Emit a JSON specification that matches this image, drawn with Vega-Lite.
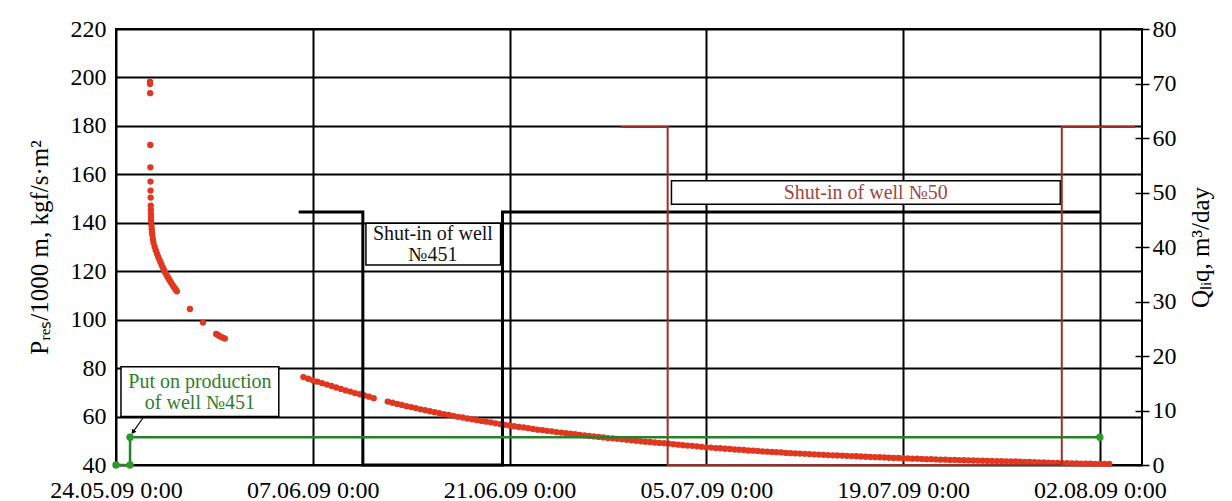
{
  "$schema": "https://vega.github.io/schema/vega-lite/v6.json",
  "width": 1026,
  "height": 436,
  "autosize": {"type": "none"},
  "padding": {"left": 116, "top": 29, "right": 90, "bottom": 36},
  "background": "white",
  "config": {
    "view": {"stroke": "black", "strokeWidth": 2},
    "font": "Liberation Serif",
    "axis": {"labelFont": "Liberation Serif", "titleFont": "Liberation Serif", "labelColor": "black", "titleColor": "black", "titleFontWeight": "normal"}
  },
  "datasets": {
    "pres": [
      {"t": "2009-05-26T10:00", "P": 198.3}, {"t": "2009-05-26T10:10", "P": 197.3}, {"t": "2009-05-26T10:20", "P": 193.5},
      {"t": "2009-05-26T10:30", "P": 172.1}, {"t": "2009-05-26T10:40", "P": 162.9}, {"t": "2009-05-26T10:50", "P": 157.0},
      {"t": "2009-05-26T11:00", "P": 153.3}, {"t": "2009-05-26T11:10", "P": 150.4}, {"t": "2009-05-26T11:20", "P": 147.1},
      {"t": "2009-05-26T11:30", "P": 145.3}, {"t": "2009-05-26T11:40", "P": 143.6}, {"t": "2009-05-26T11:50", "P": 142.2},
      {"t": "2009-05-26T12:00", "P": 140.8}, {"t": "2009-05-26T12:30", "P": 139.0}, {"t": "2009-05-26T13:00", "P": 137.5},
      {"t": "2009-05-26T13:30", "P": 136.2}, {"t": "2009-05-26T14:00", "P": 135.0}, {"t": "2009-05-26T15:00", "P": 133.2},
      {"t": "2009-05-26T16:00", "P": 131.8}, {"t": "2009-05-26T18:00", "P": 130.0}, {"t": "2009-05-26T20:00", "P": 128.6},
      {"t": "2009-05-26T22:00", "P": 127.2}, {"t": "2009-05-27T00:00", "P": 126.0}, {"t": "2009-05-27T02:00", "P": 124.8},
      {"t": "2009-05-27T04:00", "P": 123.7}, {"t": "2009-05-27T06:00", "P": 122.6}, {"t": "2009-05-27T08:00", "P": 121.5},
      {"t": "2009-05-27T10:00", "P": 120.5}, {"t": "2009-05-27T12:00", "P": 119.5}, {"t": "2009-05-27T14:00", "P": 118.6},
      {"t": "2009-05-27T16:00", "P": 117.7}, {"t": "2009-05-27T18:00", "P": 116.9}, {"t": "2009-05-27T20:00", "P": 116.1},
      {"t": "2009-05-27T22:00", "P": 115.3}, {"t": "2009-05-28T00:00", "P": 114.5}, {"t": "2009-05-28T02:00", "P": 113.8},
      {"t": "2009-05-28T04:00", "P": 113.1}, {"t": "2009-05-28T06:00", "P": 112.4}, {"t": "2009-05-28T08:00", "P": 111.7},
      {"t": "2009-05-29T06:15", "P": 104.4}, {"t": "2009-05-30T04:30", "P": 98.8},
      {"t": "2009-05-31T03:00", "P": 94.1}, {"t": "2009-05-31T06:00", "P": 93.7}, {"t": "2009-05-31T09:00", "P": 93.2},
      {"t": "2009-05-31T12:00", "P": 92.8}, {"t": "2009-05-31T15:00", "P": 92.5}, {"t": "2009-05-31T18:00", "P": 92.2},
      {"t": "2009-06-06T08:00", "P": 76.3}, {"t": "2009-06-06T16:00", "P": 75.6}, {"t": "2009-06-07T00:00", "P": 75.0},
      {"t": "2009-06-07T08:00", "P": 74.4}, {"t": "2009-06-07T16:00", "P": 73.8}, {"t": "2009-06-08T00:00", "P": 73.2},
      {"t": "2009-06-08T08:00", "P": 72.6}, {"t": "2009-06-08T16:00", "P": 72.0}, {"t": "2009-06-09T00:00", "P": 71.4},
      {"t": "2009-06-09T08:00", "P": 70.8}, {"t": "2009-06-09T16:00", "P": 70.3}, {"t": "2009-06-10T00:00", "P": 69.7},
      {"t": "2009-06-10T08:00", "P": 69.2}, {"t": "2009-06-10T16:00", "P": 68.7}, {"t": "2009-06-11T00:00", "P": 68.2},
      {"t": "2009-06-11T08:00", "P": 67.6},
      {"t": "2009-06-12T08:00", "P": 66.2}, {"t": "2009-06-12T16:00", "P": 65.7}, {"t": "2009-06-13T00:00", "P": 65.2},
      {"t": "2009-06-13T08:00", "P": 64.8}, {"t": "2009-06-13T16:00", "P": 64.3}, {"t": "2009-06-14T00:00", "P": 63.9},
      {"t": "2009-06-14T08:00", "P": 63.5}, {"t": "2009-06-14T16:00", "P": 63.0}, {"t": "2009-06-15T00:00", "P": 62.6},
      {"t": "2009-06-15T08:00", "P": 62.2}, {"t": "2009-06-15T16:00", "P": 61.8}, {"t": "2009-06-16T00:00", "P": 61.4},
      {"t": "2009-06-16T08:00", "P": 61.0}, {"t": "2009-06-16T16:00", "P": 60.7}, {"t": "2009-06-17T00:00", "P": 60.3},
      {"t": "2009-06-17T08:00", "P": 59.9}, {"t": "2009-06-17T16:00", "P": 59.6}, {"t": "2009-06-18T00:00", "P": 59.2},
      {"t": "2009-06-18T08:00", "P": 58.9}, {"t": "2009-06-18T16:00", "P": 58.5}, {"t": "2009-06-19T00:00", "P": 58.2},
      {"t": "2009-06-19T08:00", "P": 57.9}, {"t": "2009-06-19T16:00", "P": 57.6}, {"t": "2009-06-20T00:00", "P": 57.2},
      {"t": "2009-06-20T08:00", "P": 56.9}, {"t": "2009-06-20T16:00", "P": 56.6}, {"t": "2009-06-21T00:00", "P": 56.3},
      {"t": "2009-06-21T08:00", "P": 56.0}, {"t": "2009-06-21T16:00", "P": 55.7}, {"t": "2009-06-22T00:00", "P": 55.5},
      {"t": "2009-06-22T08:00", "P": 55.2}, {"t": "2009-06-22T16:00", "P": 54.9}, {"t": "2009-06-23T00:00", "P": 54.6},
      {"t": "2009-06-23T08:00", "P": 54.4}, {"t": "2009-06-23T16:00", "P": 54.1}, {"t": "2009-06-24T00:00", "P": 53.9},
      {"t": "2009-06-24T08:00", "P": 53.6}, {"t": "2009-06-24T16:00", "P": 53.4}, {"t": "2009-06-25T00:00", "P": 53.1},
      {"t": "2009-06-25T08:00", "P": 52.9}, {"t": "2009-06-25T16:00", "P": 52.7}, {"t": "2009-06-26T00:00", "P": 52.4},
      {"t": "2009-06-26T08:00", "P": 52.2}, {"t": "2009-06-26T16:00", "P": 52.0}, {"t": "2009-06-27T00:00", "P": 51.8},
      {"t": "2009-06-27T08:00", "P": 51.6}, {"t": "2009-06-27T16:00", "P": 51.4}, {"t": "2009-06-28T00:00", "P": 51.1},
      {"t": "2009-06-28T08:00", "P": 51.0}, {"t": "2009-06-28T16:00", "P": 50.8}, {"t": "2009-06-29T00:00", "P": 50.6},
      {"t": "2009-06-29T08:00", "P": 50.4}, {"t": "2009-06-29T16:00", "P": 50.2}, {"t": "2009-06-30T00:00", "P": 50.0},
      {"t": "2009-06-30T08:00", "P": 49.8}, {"t": "2009-06-30T16:00", "P": 49.6}, {"t": "2009-07-01T00:00", "P": 49.5},
      {"t": "2009-07-01T08:00", "P": 49.3}, {"t": "2009-07-01T16:00", "P": 49.1}, {"t": "2009-07-02T00:00", "P": 49.0},
      {"t": "2009-07-02T08:00", "P": 48.8}, {"t": "2009-07-02T16:00", "P": 48.6}, {"t": "2009-07-03T00:00", "P": 48.4},
      {"t": "2009-07-03T08:00", "P": 48.2}, {"t": "2009-07-03T16:00", "P": 48.0}, {"t": "2009-07-04T00:00", "P": 47.9},
      {"t": "2009-07-04T08:00", "P": 47.7}, {"t": "2009-07-04T16:00", "P": 47.5}, {"t": "2009-07-05T00:00", "P": 47.3},
      {"t": "2009-07-05T08:00", "P": 47.2}, {"t": "2009-07-05T16:00", "P": 47.0}, {"t": "2009-07-06T00:00", "P": 46.9},
      {"t": "2009-07-06T08:00", "P": 46.7}, {"t": "2009-07-06T16:00", "P": 46.6}, {"t": "2009-07-07T00:00", "P": 46.4},
      {"t": "2009-07-07T08:00", "P": 46.3}, {"t": "2009-07-07T16:00", "P": 46.2}, {"t": "2009-07-08T00:00", "P": 46.0},
      {"t": "2009-07-08T08:00", "P": 45.9}, {"t": "2009-07-08T16:00", "P": 45.8}, {"t": "2009-07-09T00:00", "P": 45.6},
      {"t": "2009-07-09T08:00", "P": 45.5}, {"t": "2009-07-09T16:00", "P": 45.4}, {"t": "2009-07-10T00:00", "P": 45.3},
      {"t": "2009-07-10T08:00", "P": 45.2}, {"t": "2009-07-10T16:00", "P": 45.0}, {"t": "2009-07-11T00:00", "P": 44.9},
      {"t": "2009-07-11T08:00", "P": 44.8}, {"t": "2009-07-11T16:00", "P": 44.7}, {"t": "2009-07-12T00:00", "P": 44.6},
      {"t": "2009-07-12T08:00", "P": 44.5}, {"t": "2009-07-12T16:00", "P": 44.4}, {"t": "2009-07-13T00:00", "P": 44.3},
      {"t": "2009-07-13T08:00", "P": 44.2}, {"t": "2009-07-13T16:00", "P": 44.1}, {"t": "2009-07-14T00:00", "P": 44.0},
      {"t": "2009-07-14T08:00", "P": 43.95}, {"t": "2009-07-14T16:00", "P": 43.9}, {"t": "2009-07-15T00:00", "P": 43.8},
      {"t": "2009-07-15T08:00", "P": 43.7}, {"t": "2009-07-15T16:00", "P": 43.6}, {"t": "2009-07-16T00:00", "P": 43.5},
      {"t": "2009-07-16T08:00", "P": 43.4}, {"t": "2009-07-16T16:00", "P": 43.3}, {"t": "2009-07-17T00:00", "P": 43.25},
      {"t": "2009-07-17T08:00", "P": 43.2}, {"t": "2009-07-17T16:00", "P": 43.1}, {"t": "2009-07-18T00:00", "P": 43.0},
      {"t": "2009-07-18T08:00", "P": 42.9}, {"t": "2009-07-18T16:00", "P": 42.9}, {"t": "2009-07-19T00:00", "P": 42.8},
      {"t": "2009-07-19T08:00", "P": 42.7}, {"t": "2009-07-19T16:00", "P": 42.6}, {"t": "2009-07-20T00:00", "P": 42.6},
      {"t": "2009-07-20T08:00", "P": 42.5}, {"t": "2009-07-20T16:00", "P": 42.4}, {"t": "2009-07-21T00:00", "P": 42.4},
      {"t": "2009-07-21T08:00", "P": 42.3}, {"t": "2009-07-21T16:00", "P": 42.2}, {"t": "2009-07-22T00:00", "P": 42.2},
      {"t": "2009-07-22T08:00", "P": 42.1}, {"t": "2009-07-22T16:00", "P": 42.1}, {"t": "2009-07-23T00:00", "P": 42.0},
      {"t": "2009-07-23T08:00", "P": 41.95}, {"t": "2009-07-23T16:00", "P": 41.9}, {"t": "2009-07-24T00:00", "P": 41.85},
      {"t": "2009-07-24T08:00", "P": 41.8}, {"t": "2009-07-24T16:00", "P": 41.75}, {"t": "2009-07-25T00:00", "P": 41.7},
      {"t": "2009-07-25T08:00", "P": 41.65}, {"t": "2009-07-25T16:00", "P": 41.6}, {"t": "2009-07-26T00:00", "P": 41.55},
      {"t": "2009-07-26T08:00", "P": 41.5}, {"t": "2009-07-26T16:00", "P": 41.5}, {"t": "2009-07-27T00:00", "P": 41.45},
      {"t": "2009-07-27T08:00", "P": 41.4}, {"t": "2009-07-27T16:00", "P": 41.3}, {"t": "2009-07-28T00:00", "P": 41.25},
      {"t": "2009-07-28T08:00", "P": 41.2}, {"t": "2009-07-28T16:00", "P": 41.1}, {"t": "2009-07-29T00:00", "P": 41.05},
      {"t": "2009-07-29T08:00", "P": 41.0}, {"t": "2009-07-29T16:00", "P": 40.9}, {"t": "2009-07-30T00:00", "P": 40.85},
      {"t": "2009-07-30T08:00", "P": 40.8}, {"t": "2009-07-30T16:00", "P": 40.8}, {"t": "2009-07-31T00:00", "P": 40.7},
      {"t": "2009-07-31T08:00", "P": 40.7}, {"t": "2009-07-31T16:00", "P": 40.6}, {"t": "2009-08-01T00:00", "P": 40.6},
      {"t": "2009-08-01T08:00", "P": 40.6}, {"t": "2009-08-01T16:00", "P": 40.5}, {"t": "2009-08-02T00:00", "P": 40.5},
      {"t": "2009-08-02T08:00", "P": 40.5}, {"t": "2009-08-02T16:00", "P": 40.45}
    ],
    "q": [
      {"series": "451", "t": "2009-06-06T00:00", "Q": 46.4},
      {"series": "451", "t": "2009-06-10T13:30", "Q": 46.4},
      {"series": "451", "t": "2009-06-10T13:30", "Q": 0},
      {"series": "451", "t": "2009-06-20T12:00", "Q": 0},
      {"series": "451", "t": "2009-06-20T12:00", "Q": 46.4},
      {"series": "451", "t": "2009-08-02T00:00", "Q": 46.4},
      {"series": "50", "t": "2009-06-28T22:00", "Q": 62},
      {"series": "50", "t": "2009-07-02T06:00", "Q": 62},
      {"series": "50", "t": "2009-07-02T06:00", "Q": 0},
      {"series": "50", "t": "2009-07-30T07:00", "Q": 0},
      {"series": "50", "t": "2009-07-30T07:00", "Q": 62},
      {"series": "50", "t": "2009-08-04T12:00", "Q": 62},
      {"series": "start", "t": "2009-05-24T00:00", "Q": 0},
      {"series": "start", "t": "2009-05-25T00:00", "Q": 0},
      {"series": "start", "t": "2009-05-25T00:00", "Q": 5.1},
      {"series": "start", "t": "2009-08-02T00:00", "Q": 5.1}
    ],
    "notes": [
      {"note": "451 production", "label": "Put on production\nof well №451", "t1": "2009-05-24T08:30", "t2": "2009-06-04T14:00", "P1": 80.6, "P2": 60.0, "tx": "2009-05-29T23:20", "Py": 74.4},
      {"note": "451 shut-in", "label": "Shut-in of well\n№451", "t1": "2009-06-10T18:45", "t2": "2009-06-20T08:40", "P1": 139.8, "P2": 122.6, "tx": "2009-06-15T13:10", "Py": 135.2},
      {"note": "50 shut-in", "label": "Shut-in of well №50", "t1": "2009-07-02T12:30", "t2": "2009-07-30T04:30", "P1": 157.4, "P2": 147.6, "tx": "2009-07-16T08:10", "Py": 152.4}
    ],
    "arrow": [
      {"t1": "2009-05-25T22:00", "P1": 59.4, "t2": "2009-05-25T05:00", "P2": 53.6}
    ]
  },
  "layer": [
    {
      "data": {"name": "pres"},
      "mark": {"type": "circle", "size": 40, "opacity": 1, "color": "#e2371f"},
      "encoding": {
        "x": {
          "field": "t", "type": "temporal",
          "scale": {"domain": [{"year": 2009, "month": 5, "date": 24}, {"year": 2009, "month": 8, "date": 5}], "nice": false},
          "axis": {
            "values": [
              {"year": 2009, "month": 5, "date": 24}, {"year": 2009, "month": 6, "date": 7}, {"year": 2009, "month": 6, "date": 21},
              {"year": 2009, "month": 7, "date": 5}, {"year": 2009, "month": 7, "date": 19}, {"year": 2009, "month": 8, "date": 2}
            ],
            "format": "%d.%m.%y %-H:%M", "title": null, "ticks": false, "domain": false,
            "grid": true, "gridColor": "black", "gridWidth": 2, "gridOpacity": 1,
            "labelFontSize": 24, "labelPadding": 13, "labelOverlap": false, "labelFlush": false, "labelAngle": 0
          }
        },
        "y": {
          "field": "P", "type": "quantitative",
          "scale": {"domain": [40, 220], "nice": false, "zero": false},
          "axis": {
            "orient": "left",
            "values": [40, 60, 80, 100, 120, 140, 160, 180, 200, 220],
            "title": "Pᵣₑₛ/1000 m, kgf/s·m²", "titleFontSize": 25, "titlePadding": 18,
            "ticks": false, "domain": false, "grid": true, "gridColor": "black", "gridWidth": 2, "gridOpacity": 1,
            "labelFontSize": 24, "labelPadding": 10
          }
        }
      }
    },
    {
      "data": {"name": "notes"},
      "mark": {"type": "rect", "fill": "white", "stroke": "black", "strokeWidth": 1.5},
      "encoding": {
        "x": {"field": "t1", "type": "temporal", "axis": {"title": null}},
        "x2": {"field": "t2"},
        "y": {"field": "P1", "type": "quantitative", "scale": {"domain": [40, 220], "nice": false, "zero": false}, "axis": null},
        "y2": {"field": "P2"}
      }
    },
    {
      "data": {"name": "notes"},
      "mark": {"type": "text", "font": "Liberation Serif", "fontSize": 20, "lineBreak": "\n", "lineHeight": 21, "align": "center", "baseline": "middle"},
      "encoding": {
        "x": {"field": "tx", "type": "temporal", "axis": {"title": null}},
        "y": {"field": "Py", "type": "quantitative", "scale": {"domain": [40, 220], "nice": false, "zero": false}, "axis": null},
        "text": {"field": "label"},
        "color": {"field": "note", "type": "nominal", "scale": {"domain": ["451 production", "451 shut-in", "50 shut-in"], "range": ["#2e7d32", "#111111", "#a0463e"]}, "legend": null}
      }
    },
    {
      "data": {"name": "arrow"},
      "mark": {"type": "rule", "color": "black", "strokeWidth": 1.2},
      "encoding": {
        "x": {"field": "t1", "type": "temporal", "axis": {"title": null}},
        "x2": {"field": "t2"},
        "y": {"field": "P1", "type": "quantitative", "scale": {"domain": [40, 220], "nice": false, "zero": false}, "axis": null},
        "y2": {"field": "P2"}
      }
    },
    {
      "data": {"name": "arrow"},
      "mark": {"type": "point", "shape": "triangle-down", "filled": true, "color": "black", "size": 28, "angle": 35, "opacity": 1},
      "encoding": {
        "x": {"field": "t2", "type": "temporal", "axis": {"title": null}},
        "y": {"field": "P2", "type": "quantitative", "scale": {"domain": [40, 220], "nice": false, "zero": false}, "axis": null}
      }
    },
    {
      "data": {"name": "q"},
      "transform": [{"filter": "datum.series === '451'"}],
      "mark": {"type": "line", "color": "black", "strokeWidth": 3},
      "encoding": {
        "x": {"field": "t", "type": "temporal", "axis": {"title": null}},
        "y": {
          "field": "Q", "type": "quantitative",
          "scale": {"domain": [0, 80], "nice": false},
          "axis": {
            "orient": "right", "values": [0, 10, 20, 30, 40, 50, 60, 70, 80],
            "title": "Qₗᵢq, m³/day", "titleAngle": 270, "titleBaseline": "top", "titleFontSize": 25, "titlePadding": 12,
            "grid": false, "domain": false, "ticks": true, "tickSize": 14, "tickWidth": 1.5, "tickColor": "black",
            "offset": -7, "labelFontSize": 24, "labelPadding": 3
          }
        },
        "order": {"value": null}
      }
    },
    {
      "data": {"name": "q"},
      "transform": [{"filter": "datum.series === '50'"}],
      "mark": {"type": "line", "color": "#9e2f27", "strokeWidth": 2},
      "encoding": {
        "x": {"field": "t", "type": "temporal", "axis": {"title": null}},
        "y": {"field": "Q", "type": "quantitative", "scale": {"domain": [0, 80], "nice": false}, "axis": null},
        "order": {"value": null}
      }
    },
    {
      "data": {"name": "q"},
      "transform": [{"filter": "datum.series === 'start'"}],
      "mark": {"type": "line", "color": "#2a7f2a", "strokeWidth": 2.5},
      "encoding": {
        "x": {"field": "t", "type": "temporal", "axis": {"title": null}},
        "y": {"field": "Q", "type": "quantitative", "scale": {"domain": [0, 80], "nice": false}, "axis": null},
        "order": {"value": null}
      }
    },
    {
      "data": {"name": "q"},
      "transform": [{"filter": "datum.series === 'start'"}],
      "mark": {"type": "circle", "color": "#2a9a2a", "size": 55, "opacity": 1},
      "encoding": {
        "x": {"field": "t", "type": "temporal", "axis": {"title": null}},
        "y": {"field": "Q", "type": "quantitative", "scale": {"domain": [0, 80], "nice": false}, "axis": null}
      }
    }
  ],
  "resolve": {"scale": {"y": "independent"}}
}
